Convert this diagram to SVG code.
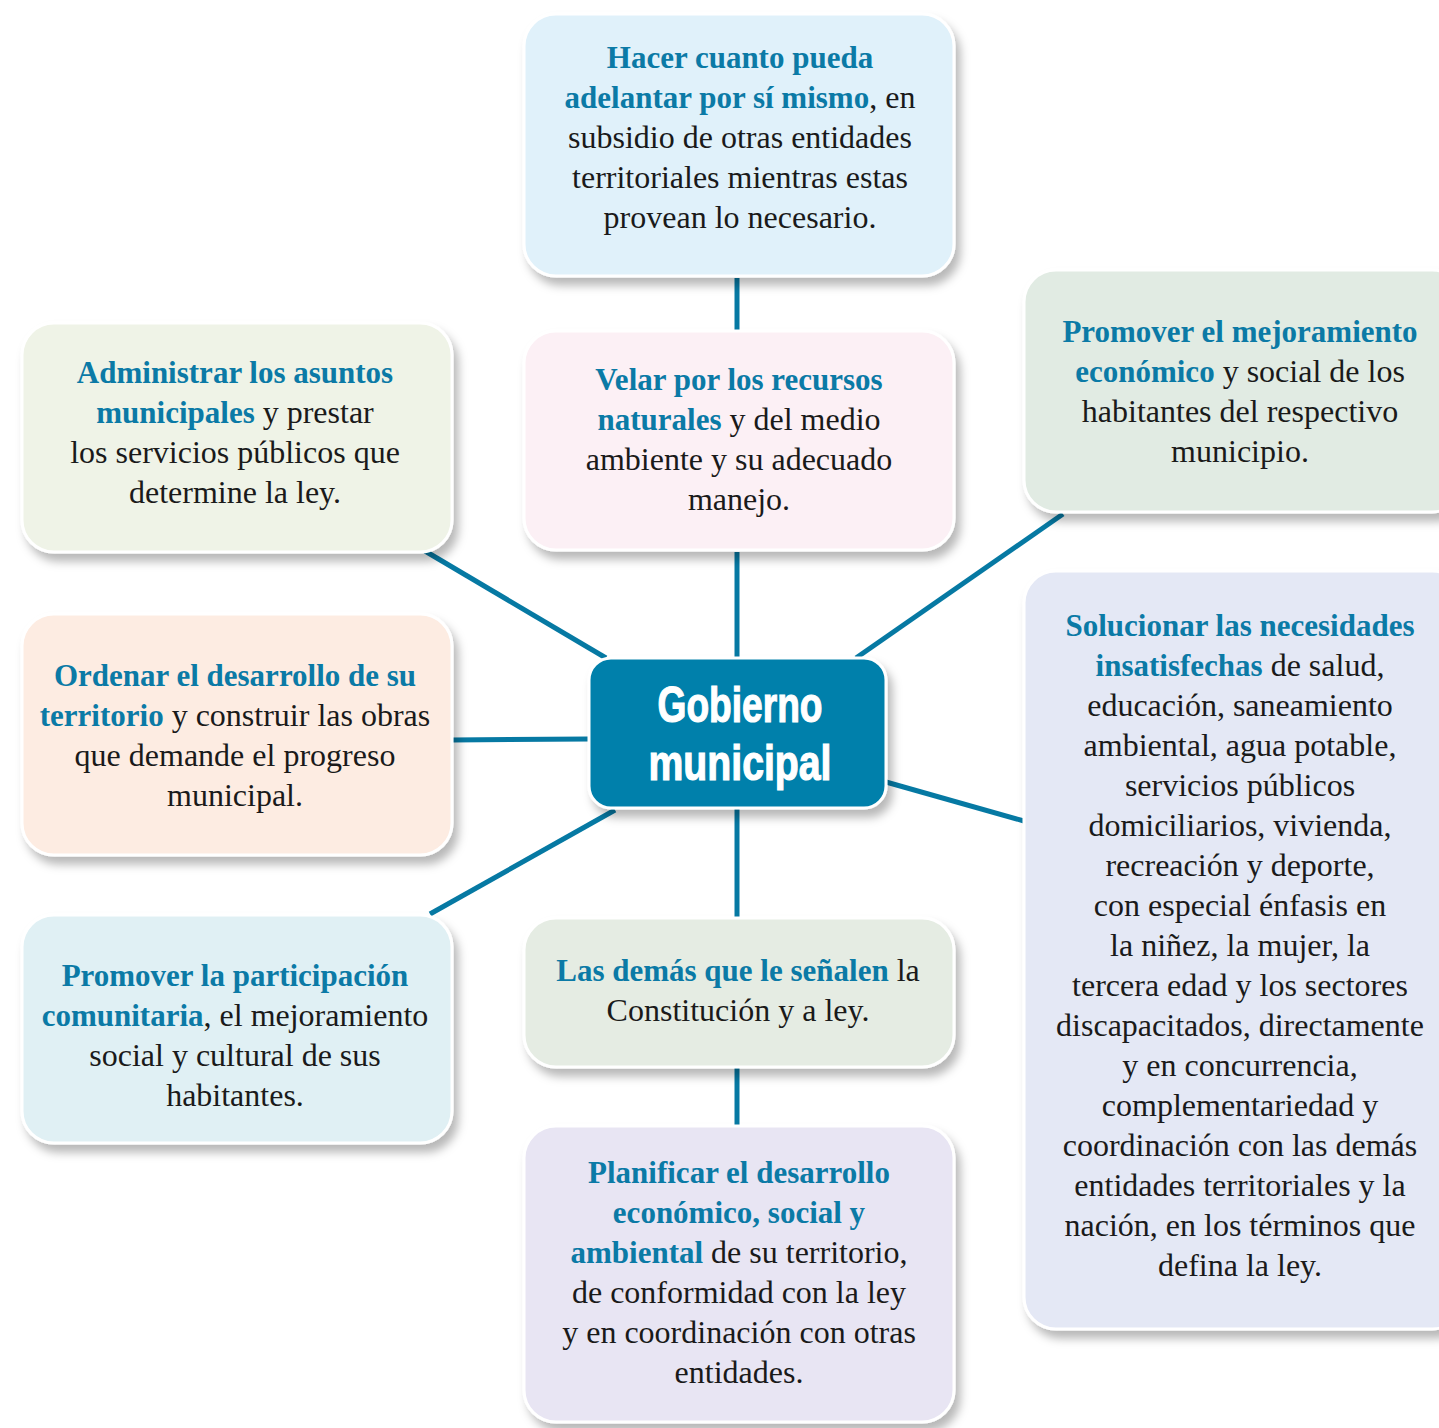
<svg xmlns="http://www.w3.org/2000/svg" width="1439" height="1428" viewBox="0 0 1439 1428">
<defs>
<filter id="sh" x="-10%" y="-10%" width="125%" height="130%">
<feDropShadow dx="5" dy="8" stdDeviation="5" flood-color="#000" flood-opacity="0.28"/>
</filter>
<style>
.box{stroke:#fff;stroke-width:3;filter:url(#sh)}
.t{font-family:"Liberation Serif","DejaVu Serif",serif;font-size:32px;fill:#1a1a1a;text-anchor:middle}
.b{fill:#0b7aa6;font-weight:bold;font-size:31px}
.ln{stroke:#0679a3;stroke-width:5;fill:none}
.ct{font-family:"Liberation Sans","DejaVu Sans",sans-serif;font-weight:bold;font-size:50px;fill:#fff;stroke:#fff;stroke-width:1.2;text-anchor:middle}
</style>
</defs>
<rect width="1439" height="1428" fill="#fff"/>
<g id="connectors">
<line class="ln" x1="737" y1="278" x2="737" y2="330"/>
<line class="ln" x1="737" y1="552" x2="737" y2="658"/>
<line class="ln" x1="737" y1="808" x2="737" y2="918"/>
<line class="ln" x1="737" y1="1067" x2="737" y2="1126"/>
<line class="ln" x1="425" y1="551" x2="606" y2="658"/>
<line class="ln" x1="452" y1="740" x2="589" y2="739"/>
<line class="ln" x1="430" y1="914" x2="615" y2="810"/>
<line class="ln" x1="1063" y1="514" x2="856" y2="658"/>
<line class="ln" x1="886" y1="782" x2="1024" y2="821"/>
</g>
<g id="n-hacer">
<rect class="box" x="524" y="14" width="430" height="262" rx="32" fill="#e0f1fa"/>
<text class="t" x="740" y="68"><tspan class="b">Hacer cuanto pueda</tspan></text>
<text class="t" x="740" y="108"><tspan class="b">adelantar por sí mismo</tspan>, en</text>
<text class="t" x="740" y="148">subsidio de otras entidades</text>
<text class="t" x="740" y="188">territoriales mientras estas</text>
<text class="t" x="740" y="228">provean lo necesario.</text>
</g>
<g id="n-velar">
<rect class="box" x="524" y="331" width="430" height="219" rx="32" fill="#fcf0f5"/>
<text class="t" x="739" y="390"><tspan class="b">Velar por los recursos</tspan></text>
<text class="t" x="739" y="430"><tspan class="b">naturales</tspan> y del medio</text>
<text class="t" x="739" y="470">ambiente y su adecuado</text>
<text class="t" x="739" y="510">manejo.</text>
</g>
<g id="n-administrar">
<rect class="box" x="22" y="323" width="430" height="229" rx="32" fill="#eff3e7"/>
<text class="t" x="235" y="383"><tspan class="b">Administrar los asuntos</tspan></text>
<text class="t" x="235" y="423"><tspan class="b">municipales</tspan> y prestar</text>
<text class="t" x="235" y="463">los servicios públicos que</text>
<text class="t" x="235" y="503">determine la ley.</text>
</g>
<g id="n-mejoramiento">
<rect class="box" x="1024" y="270" width="440" height="242" rx="32" fill="#e1ebe3"/>
<text class="t" x="1240" y="342"><tspan class="b">Promover el mejoramiento</tspan></text>
<text class="t" x="1240" y="382"><tspan class="b">económico</tspan> y social de los</text>
<text class="t" x="1240" y="422">habitantes del respectivo</text>
<text class="t" x="1240" y="462">municipio.</text>
</g>
<g id="n-ordenar">
<rect class="box" x="22" y="614" width="430" height="241" rx="32" fill="#fdece2"/>
<text class="t" x="235" y="686"><tspan class="b">Ordenar el desarrollo de su</tspan></text>
<text class="t" x="235" y="726"><tspan class="b">territorio</tspan> y construir las obras</text>
<text class="t" x="235" y="766">que demande el progreso</text>
<text class="t" x="235" y="806">municipal.</text>
</g>
<g id="n-gobierno">
<rect x="589" y="658" width="297" height="150" rx="22" fill="#0380ab" stroke="#fff" stroke-width="3" filter="url(#sh)"/>
<text class="ct" x="740" y="722" textLength="165" lengthAdjust="spacingAndGlyphs">Gobierno</text>
<text class="ct" x="740" y="780" textLength="183" lengthAdjust="spacingAndGlyphs">municipal</text>
</g>
<g id="n-solucionar">
<rect class="box" x="1024" y="571" width="440" height="758" rx="32" fill="#e4e8f5"/>
<text class="t" x="1240" y="636"><tspan class="b">Solucionar las necesidades</tspan></text>
<text class="t" x="1240" y="676"><tspan class="b">insatisfechas</tspan> de salud,</text>
<text class="t" x="1240" y="716">educación, saneamiento</text>
<text class="t" x="1240" y="756">ambiental, agua potable,</text>
<text class="t" x="1240" y="796">servicios públicos</text>
<text class="t" x="1240" y="836">domiciliarios, vivienda,</text>
<text class="t" x="1240" y="876">recreación y deporte,</text>
<text class="t" x="1240" y="916">con especial énfasis en</text>
<text class="t" x="1240" y="956">la niñez, la mujer, la</text>
<text class="t" x="1240" y="996">tercera edad y los sectores</text>
<text class="t" x="1240" y="1036">discapacitados, directamente</text>
<text class="t" x="1240" y="1076">y en concurrencia,</text>
<text class="t" x="1240" y="1116">complementariedad y</text>
<text class="t" x="1240" y="1156">coordinación con las demás</text>
<text class="t" x="1240" y="1196">entidades territoriales y la</text>
<text class="t" x="1240" y="1236">nación, en los términos que</text>
<text class="t" x="1240" y="1276">defina la ley.</text>
</g>
<g id="n-demas">
<rect class="box" x="524" y="918" width="430" height="149" rx="32" fill="#e5ece3"/>
<text class="t" x="738" y="981"><tspan class="b">Las demás que le señalen</tspan> la</text>
<text class="t" x="738" y="1021">Constitución y a ley.</text>
</g>
<g id="n-participacion">
<rect class="box" x="22" y="915" width="430" height="228" rx="32" fill="#e0f0f4"/>
<text class="t" x="235" y="986"><tspan class="b">Promover la participación</tspan></text>
<text class="t" x="235" y="1026"><tspan class="b">comunitaria</tspan>, el mejoramiento</text>
<text class="t" x="235" y="1066">social y cultural de sus</text>
<text class="t" x="235" y="1106">habitantes.</text>
</g>
<g id="n-planificar">
<rect class="box" x="524" y="1126" width="430" height="296" rx="32" fill="#e8e5f3"/>
<text class="t" x="739" y="1183"><tspan class="b">Planificar el desarrollo</tspan></text>
<text class="t" x="739" y="1223"><tspan class="b">económico, social y</tspan></text>
<text class="t" x="739" y="1263"><tspan class="b">ambiental</tspan> de su territorio,</text>
<text class="t" x="739" y="1303">de conformidad con la ley</text>
<text class="t" x="739" y="1343">y en coordinación con otras</text>
<text class="t" x="739" y="1383">entidades.</text>
</g>
</svg>
